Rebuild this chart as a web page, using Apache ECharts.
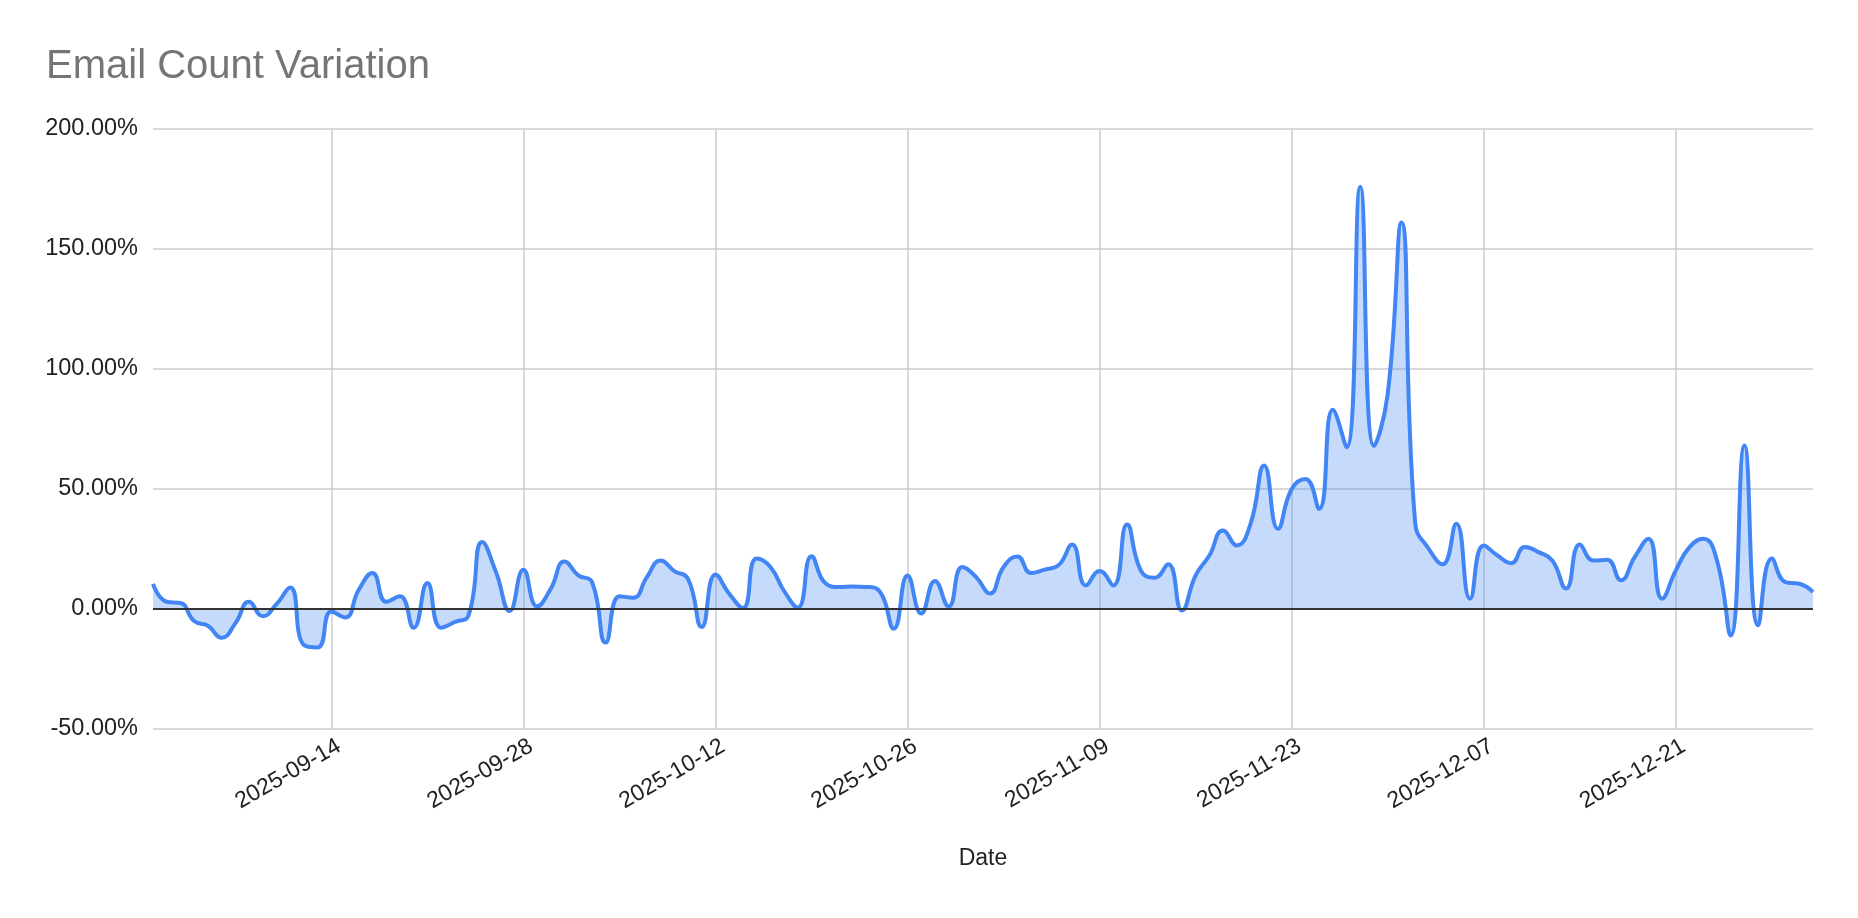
<!DOCTYPE html>
<html>
<head>
<meta charset="utf-8">
<script src="https://cdn.jsdelivr.net/npm/echarts@6/dist/echarts.min.js"></script>
<style>
  html, body { margin: 0; padding: 0; background: #fff; }
  #chart { width: 1858px; height: 918px; }
</style>
</head>
<body>
<div id="chart"></div>
<script>
// daily dates 2025-09-01 .. 2025-12-31
const startDate = new Date(Date.UTC(2025, 8, 1));
const dates = [];
for (let i = 0; i < 122; i++) {
  const d = new Date(startDate.getTime() + i * 86400000);
  dates.push(d.toISOString().slice(0, 10));
}

// day-over-day variation, in percent
const sepValues = [
  10.5, 3, 2.5, -5, -7, -12, -6, 3, -3, 2, 9, -15, -16, -1, -3.5,
  8, 15, 3, 5.3, -7.8, 10.8, -7.8, -5.4, -2.6, 27.9, 15.4, -0.8, 16.4, 1.1, 8.5
];
const octValues = [
  19.8, 14, 11.2, -14, 5.3, 4.7, 13.3, 20.2, 15.8, 12.6, -7.5, 14.4, 6.4, 0.4, 21,
  17.5, 7.5, 0.6, 22, 10.8, 9.2, 9.4, 9.2, 7.1, -8.2, 14, -1.9, 11.7, 1.1, 17.5, 13.3
];
const novValues = [
  6.5, 17.5, 21.9, 15, 16.4, 18.2, 26.9, 9.8, 15.8, 9.8, 35.2, 16.1, 13, 18.6, -0.6,
  14, 22.3, 32.7, 26.5, 35.5, 59.8, 33.4, 50, 54.2, 41.7, 83, 67.4, 175.9, 68, 89.6
];
const decValues = [
  161, 36, 25, 18.6, 35.5, 4.3, 26.5, 22.3, 19.1, 25.8, 23.7, 20.2, 8.5, 26.9, 20.2,
  20.5, 12, 21.6, 29.3, 4.3, 16.1, 25.8, 29.3, 20.2, -11, 68.1, -6.8, 21, 11.2, 10.5, 7.1
];
const values = [...sepValues, ...octValues, ...novValues, ...decValues];

const tickLabels = ['2025-09-14', '2025-09-28', '2025-10-12', '2025-10-26',
  '2025-11-09', '2025-11-23', '2025-12-07', '2025-12-21'];
const showTick = (idx, val) => tickLabels.indexOf(val) >= 0;

const myChart = echarts.init(document.getElementById('chart'));
const option = {
  animation: false,
  textStyle: { fontFamily: 'Liberation Sans, Arial, sans-serif' },
  title: {
    text: 'Email Count Variation',
    left: 41,
    top: 42,
    textStyle: { fontSize: 40, fontWeight: 'normal', color: '#757575' }
  },
  grid: { left: 153, right: 45, top: 129, bottom: 189 },
  xAxis: {
    type: 'category',
    data: dates,
    boundaryGap: false,
    name: 'Date',
    nameLocation: 'middle',
    nameGap: 118,
    nameTextStyle: { fontSize: 23, color: '#222' },
    axisLine: { show: false, onZero: false },
    axisTick: { show: false },
    axisLabel: {
      interval: showTick,
      rotate: 30,
      fontSize: 23,
      color: '#222',
      margin: 20,
      padding: [0, -9, 0, 0]
    },
    splitLine: { show: true, interval: showTick, lineStyle: { color: '#cccccc', width: 1.5 } }
  },
  yAxis: {
    type: 'value',
    min: -50,
    max: 200,
    interval: 50,
    axisLine: { show: false },
    axisTick: { show: false },
    axisLabel: {
      fontSize: 23.5,
      color: '#222',
      margin: 15,
      formatter: v => v.toFixed(2) + '%'
    },
    splitLine: { lineStyle: { color: '#cccccc', width: 1.5 } }
  },
  series: [{
    type: 'line',
    data: values,
    smooth: true,
    showSymbol: false,
    lineStyle: { color: '#4285f4', width: 4 },
    areaStyle: { color: '#4285f4', opacity: 0.3 },
    markLine: {
      silent: true,
      symbol: 'none',
      label: { show: false },
      lineStyle: { color: '#333', width: 2, type: 'solid' },
      data: [{ yAxis: 0 }]
    }
  }]
};
myChart.setOption(option);
</script>
</body>
</html>
